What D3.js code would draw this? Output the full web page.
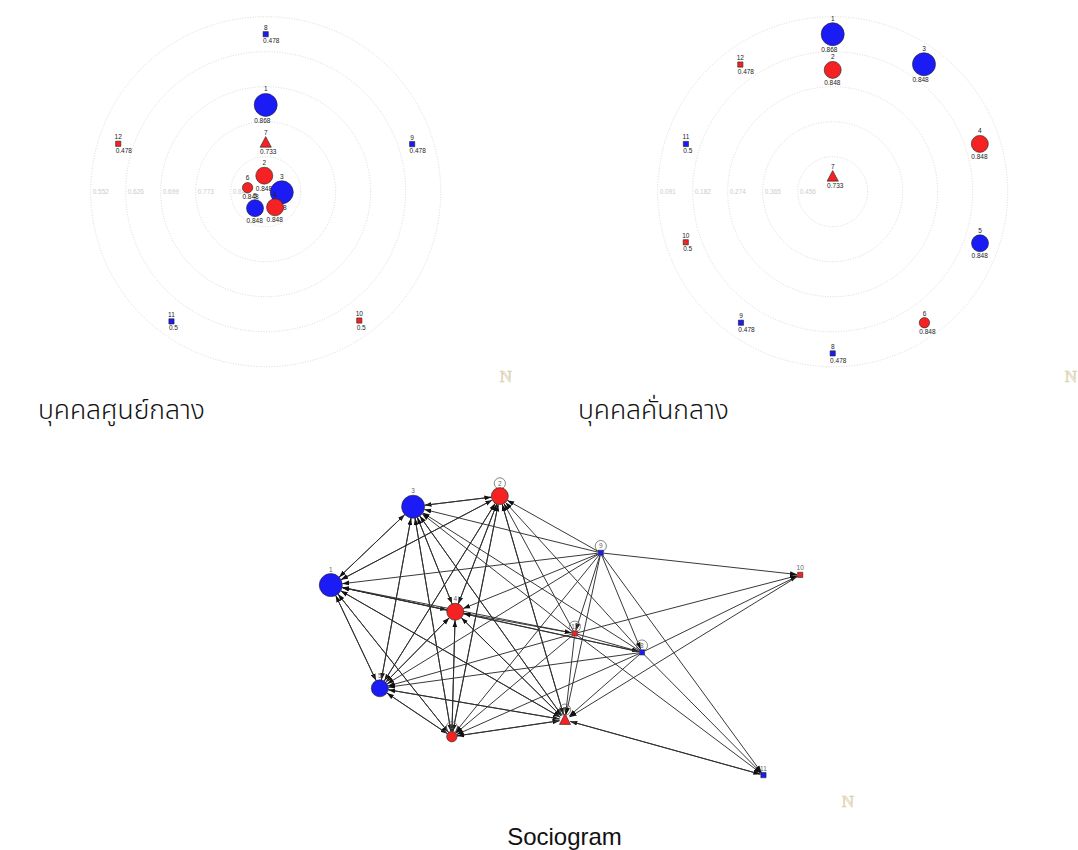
<!DOCTYPE html>
<html>
<head>
<meta charset="utf-8">
<script src="https://cdn.jsdelivr.net/npm/d3@7"></script>
<style>
  body { margin: 0; background: #fff; }
  svg { display: block; }
</style>
</head>
<body>
<svg id="chart" width="1078" height="850"></svg>
<script>
// ---- actors (shared by all three views) ----
const nodeIds   = ["1","2","3","4","5","6","7","8","9","10","11","12"];
const nodeGroup = ["blue","red","blue","red","blue","red","red","blue","blue","red","blue","red"];
const nodeShape = ["circle","circle","circle","circle","circle","circle","triangle","square","square","square","square","square"];
const nodeSize  = [11.5, 8.5, 11.5, 8.5, 8.5, 5.2, 5.6, 2.6, 2.6, 2.6, 2.6, 2.6];
const nodeScore = ["0.868","0.848","0.848","0.848","0.848","0.848","0.733","0.478","0.478","0.5","0.5","0.478"];

// ---- target diagram: closeness centrality ----
const closenessTicks = ["0.848","0.773","0.699","0.626","0.552"];          // inner ring -> outer ring
const closenessAngle = [-90, -95, 2, 59, 123, -167.5, -90, -90, -18, 54, 126, -162];
const closenessDist  = [2.48, 0.46, 0.46, 0.52, 0.56, 0.53, 1.4, 4.5, 4.4, 4.55, 4.58, 4.43];

// ---- target diagram: betweenness centrality ----
const betweennessTicks = ["0.456","0.365","0.274","0.182","0.091"];
const betweennessAngle = [-90, -90, -54.4, -18, 19.3, 55, -90, 90, 125, 161, -162, -126];
const betweennessDist  = [4.5, 3.48, 4.48, 4.42, 4.46, 4.57, 0.43, 4.62, 4.57, 4.44, 4.41, 4.49];

// ---- sociogram layout (layout units 0..100) and ties ----
const socioX = [2.2, 36.7, 19.0, 27.6, 12.2, 26.9, 50.0, 65.7, 57.3, 98.0, 90.5, 52.0];
const socioY = [33.9, 5.2, 8.6, 42.5, 67.2, 82.8, 77.4, 55.6, 23.5, 30.6, 95.2, 49.5];
const socioLoops = ["2","6","7","8","9","12"];
const socioTies = [
  ["1","2"],["2","1"],["1","3"],["3","1"],["1","4"],["4","1"],["1","5"],["5","1"],["1","6"],["6","1"],["1","7"],["7","1"],
  ["2","3"],["3","2"],["2","4"],["4","2"],["2","5"],["5","2"],["2","6"],["6","2"],["2","7"],["7","2"],
  ["3","4"],["4","3"],["3","5"],["5","3"],["3","6"],["6","3"],["3","7"],["7","3"],
  ["4","5"],["5","4"],["4","6"],["6","4"],["4","7"],["7","4"],
  ["5","6"],["6","5"],["5","7"],["7","5"],["6","7"],["7","6"],
  ["9","1"],["9","2"],["9","3"],["9","4"],["9","5"],["9","6"],["9","7"],["9","8"],["9","10"],["9","11"],["9","12"],
  ["12","1"],["12","2"],["12","3"],["4","12"],["12","5"],["12","6"],["12","7"],["12","10"],["12","11"],["12","8"],
  ["8","1"],["8","2"],["8","3"],["8","4"],["8","5"],["8","6"],["8","7"],["8","10"],["8","11"],
  ["10","7"],["11","7"],["7","11"]
];

const captions = ["บุคคลศูนย์กลาง", "บุคคลคั่นกลาง", "Sociogram"];

// ---- styling ----
const fillOf = { blue: "#1b1bf6", red: "#f42222" };
const labelFont = "'Liberation Sans', Arial, sans-serif";

const svg = d3.select("#chart");

function shapePath(i, cx, cy) {
  const s = nodeSize[i];
  if (nodeShape[i] === "triangle") {
    return `M${cx},${cy - s - 0.5}L${cx + s},${cy + s * 0.8}L${cx - s},${cy + s * 0.8}Z`;
  }
  return `M${cx - s},${cy - s}h${2 * s}v${2 * s}h${-2 * s}Z`;
}

function drawShape(g, i, cx, cy) {
  const color = fillOf[nodeGroup[i]];
  if (nodeShape[i] === "circle") {
    g.append("circle").attr("cx", cx).attr("cy", cy).attr("r", nodeSize[i])
      .attr("fill", color).attr("stroke", "#222").attr("stroke-width", 0.6);
  } else {
    g.append("path").attr("d", shapePath(i, cx, cy))
      .attr("fill", color).attr("stroke", "#222").attr("stroke-width", 0.6);
  }
}

function topOf(i) { return nodeShape[i] === "triangle" ? nodeSize[i] + 0.5 : nodeSize[i]; }
function bottomOf(i) { return nodeShape[i] === "triangle" ? nodeSize[i] * 0.8 : nodeSize[i]; }

// ---- radial (target) diagram ----
function drawTarget(cx, cy, ticks, angles, dists) {
  const g = svg.append("g");
  const r = d3.scaleLinear().domain([0, ticks.length]).range([0, 175]);

  g.selectAll("circle.ring").data(ticks).join("circle")
    .attr("class", "ring")
    .attr("cx", cx).attr("cy", cy)
    .attr("r", (d, k) => r(k + 1))
    .attr("fill", "none").attr("stroke", "#cfcfcf")
    .attr("stroke-width", 0.8).attr("stroke-dasharray", "1,1.6");

  g.selectAll("text.tick").data(ticks).join("text")
    .attr("class", "tick")
    .attr("x", (d, k) => cx - r(k + 1) + 2)
    .attr("y", cy + 2.4)
    .attr("font-family", labelFont).attr("font-size", 6.5)
    .attr("fill", "#cccccc")
    .text(d => d);

  nodeIds.forEach((id, i) => {
    const a = angles[i] * Math.PI / 180;
    const x = cx + r(dists[i]) * Math.cos(a);
    const y = cy + r(dists[i]) * Math.sin(a);
    const ng = g.append("g");
    drawShape(ng, i, x, y);
    ng.append("text").attr("x", x).attr("y", y - topOf(i) - 2)
      .attr("text-anchor", "middle")
      .attr("font-family", labelFont).attr("font-size", 6.5).attr("fill", "#222")
      .text(id);
    ng.append("text").attr("x", x - nodeSize[i]).attr("y", y + bottomOf(i) + 6.5)
      .attr("font-family", labelFont).attr("font-size", 6.5).attr("fill", "#222")
      .text(nodeScore[i]);
  });
}

drawTarget(265.7, 191.7, closenessTicks, closenessAngle, closenessDist);
drawTarget(832.7, 191.7, betweennessTicks, betweennessAngle, betweennessDist);

// ---- sociogram ----
const sx = d3.scaleLinear().domain([0, 100]).range([320, 810]);
const sy = d3.scaleLinear().domain([0, 100]).range([480, 790]);

svg.append("defs").append("marker")
  .attr("id", "arrow")
  .attr("viewBox", "0 -3 7 6")
  .attr("refX", 7).attr("refY", 0)
  .attr("markerUnits", "userSpaceOnUse")
  .attr("markerWidth", 7).attr("markerHeight", 6)
  .attr("orient", "auto")
  .append("path").attr("d", "M0,-2.4L7,0L0,2.4Z").attr("fill", "#111");

const idx = id => nodeIds.indexOf(id);
function reach(i) { return nodeShape[i] === "square" ? 3.2 : nodeShape[i] === "triangle" ? 5.5 : nodeSize[i]; }

const socio = svg.append("g");
socio.selectAll("line.tie").data(socioTies).join("line")
  .attr("class", "tie")
  .each(function (d) {
    const a = idx(d[0]), b = idx(d[1]);
    const x1 = sx(socioX[a]), y1 = sy(socioY[a]);
    const x2 = sx(socioX[b]), y2 = sy(socioY[b]);
    const len = Math.hypot(x2 - x1, y2 - y1);
    const ux = (x2 - x1) / len, uy = (y2 - y1) / len;
    d3.select(this)
      .attr("x1", x1 + ux * reach(a)).attr("y1", y1 + uy * reach(a))
      .attr("x2", x2 - ux * reach(b)).attr("y2", y2 - uy * reach(b));
  })
  .attr("stroke", "#2e2e2e").attr("stroke-width", 0.95)
  .attr("marker-end", "url(#arrow)");

socio.selectAll("circle.loop").data(socioLoops).join("circle")
  .attr("class", "loop")
  .attr("cx", d => sx(socioX[idx(d)]))
  .attr("cy", d => sy(socioY[idx(d)]) - topOf(idx(d)) - 4.2)
  .attr("r", 5.6)
  .attr("fill", "none").attr("stroke", "#666").attr("stroke-width", 0.8);

nodeIds.forEach((id, i) => {
  const x = sx(socioX[i]), y = sy(socioY[i]);
  drawShape(socio, i, x, y);
  socio.append("text").attr("x", x).attr("y", y - topOf(i) - 2)
    .attr("text-anchor", "middle")
    .attr("font-family", labelFont).attr("font-size", 6.5).attr("fill", "#666")
    .text(id);
});

// ---- small logo marks ----
[[506, 376], [1071, 376], [848, 801]].forEach(([x, y]) => {
  svg.append("text").attr("x", x).attr("y", y + 6)
    .attr("text-anchor", "middle")
    .attr("font-family", "'Liberation Serif', serif").attr("font-size", 17)
    .attr("fill", "#fbf8ec").attr("stroke", "#d6caa2").attr("stroke-width", 0.6)
    .text("N");
});

// ---- captions ----
const thaiFont = "'Noto Sans Thai', 'Noto Sans Thai UI', 'Noto Sans', 'DejaVu Sans', sans-serif";
svg.append("text").attr("x", 38).attr("y", 419)
  .attr("font-family", thaiFont).attr("font-size", 26.5).attr("font-weight", 300).attr("fill", "#111")
  .text(captions[0]);
svg.append("text").attr("x", 578).attr("y", 419)
  .attr("font-family", thaiFont).attr("font-size", 26.5).attr("font-weight", 300).attr("fill", "#111")
  .text(captions[1]);
svg.append("text").attr("x", 564.5).attr("y", 845)
  .attr("text-anchor", "middle")
  .attr("font-family", labelFont).attr("font-size", 24).attr("fill", "#111")
  .text(captions[2]);
</script>
</body>
</html>
